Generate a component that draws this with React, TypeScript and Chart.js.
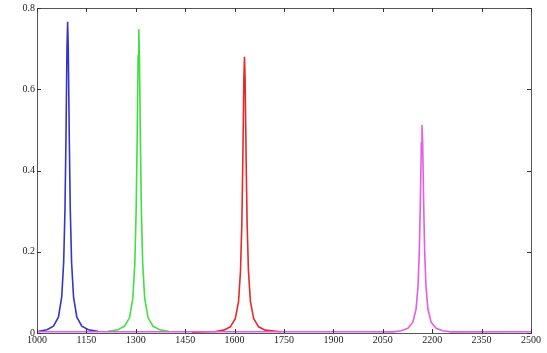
import React, { useEffect, useRef } from "react";
import { Chart, registerables } from "chart.js";

Chart.register(...registerables);

const xTicks = [1000, 1150, 1300, 1450, 1600, 1750, 1900, 2050, 2200, 2350, 2500];
const yTicks = [0, 0.2, 0.4, 0.6, 0.8];

const blueX = [1005, 1030, 1050, 1065, 1075, 1081, 1085, 1088, 1091, 1093, 1095, 1098, 1101, 1105, 1111, 1121, 1136, 1156, 1185];
const blueY = [0.004, 0.008, 0.017, 0.039, 0.088, 0.174, 0.305, 0.481, 0.7, 0.766, 0.7, 0.481, 0.305, 0.174, 0.088, 0.039, 0.017, 0.008, 0.004];

const greenX = [1215, 1246, 1266, 1281, 1291, 1297, 1301, 1304, 1307, 1309, 1311, 1314, 1317, 1321, 1327, 1337, 1352, 1372, 1400];
const greenY = [0.004, 0.0079, 0.0167, 0.038, 0.086, 0.17, 0.298, 0.47, 0.683, 0.748, 0.683, 0.47, 0.298, 0.17, 0.086, 0.038, 0.0167, 0.0079, 0.004];

const redX = [1470, 1542, 1567, 1587, 1602, 1612, 1618, 1622, 1625, 1628, 1630, 1632, 1635, 1638, 1642, 1648, 1658, 1673, 1693, 1740];
const redY = [0.002, 0.0037, 0.0071, 0.0152, 0.035, 0.078, 0.154, 0.271, 0.427, 0.621, 0.68, 0.621, 0.427, 0.271, 0.154, 0.078, 0.035, 0.0152, 0.0071, 0.003];

const magentaX = [1000, 1500, 2000, 2081, 2106, 2126, 2141, 2151, 2157, 2161, 2164, 2167, 2169, 2171, 2174, 2177, 2181, 2187, 2197, 2212, 2232, 2257, 2500];
const magentaY = [0.003, 0.003, 0.003, 0.0028, 0.0054, 0.0114, 0.026, 0.059, 0.116, 0.204, 0.322, 0.468, 0.512, 0.468, 0.322, 0.204, 0.116, 0.059, 0.026, 0.0114, 0.0054, 0.0028, 0.003];

const colors = { blue: "#3535cc", green: "#3fe03f", red: "#e62a2a", magenta: "#e25ee2" };

function pts(xs: number[], ys: number[]) {
  return xs.map((x, i) => ({ x, y: ys[i] }));
}

const framePlugin = {
  id: "frame",
  afterDraw(chart: any) {
    const { ctx, chartArea } = chart;
    const xs = chart.scales.x;
    const ys = chart.scales.y;
    ctx.save();
    ctx.strokeStyle = "#555";
    ctx.lineWidth = 1;
    ctx.strokeRect(chartArea.left + 0.5, chartArea.top + 0.5, chartArea.right - chartArea.left, chartArea.bottom - chartArea.top);
    const L = 4;
    ctx.strokeStyle = "#333";
    ctx.beginPath();
    xTicks.forEach((v) => {
      const px = Math.round(xs.getPixelForValue(v)) + 0.5;
      ctx.moveTo(px, chartArea.bottom);
      ctx.lineTo(px, chartArea.bottom - L);
      ctx.moveTo(px, chartArea.top);
      ctx.lineTo(px, chartArea.top + L);
    });
    yTicks.forEach((v) => {
      const py = Math.round(ys.getPixelForValue(v)) + 0.5;
      ctx.moveTo(chartArea.left, py);
      ctx.lineTo(chartArea.left + L, py);
      ctx.moveTo(chartArea.right, py);
      ctx.lineTo(chartArea.right - L, py);
    });
    ctx.stroke();
    ctx.restore();
  },
};

export default function App() {
  const ref = useRef<HTMLCanvasElement | null>(null);
  useEffect(() => {
    document.body.style.margin = "0";
    const mk = (label: string, xs: number[], ys: number[], c: string) => ({
      label,
      data: pts(xs, ys),
      borderColor: c,
      backgroundColor: c,
      borderWidth: 1.6,
      pointRadius: 0,
      tension: 0,
      fill: false,
    });
    const chart = new Chart(ref.current as HTMLCanvasElement, {
      type: "line",
      data: {
        datasets: [
          mk("magenta", magentaX, magentaY, colors.magenta),
          mk("blue", blueX, blueY, colors.blue),
          mk("green", greenX, greenY, colors.green),
          mk("red", redX, redY, colors.red),
        ],
      },
      options: {
        animation: false,
        responsive: false,
        layout: { padding: { top: 8, right: 16, left: 0, bottom: 0 } },
        plugins: { legend: { display: false }, tooltip: { enabled: false } },
        scales: {
          x: {
            type: "linear",
            min: 1000,
            max: 2500,
            afterBuildTicks: (s: any) => {
              s.ticks = xTicks.map((v) => ({ value: v }));
            },
            afterFit: (s: any) => {
              s.height = 20;
            },
            grid: { display: false, drawTicks: false },
            border: { display: false },
            ticks: {
              autoSkip: false,
              maxRotation: 0,
              padding: 1,
              color: "#222",
              font: { family: "Liberation Serif", size: 10 },
              callback: (v: any) => String(v),
            },
          },
          y: {
            type: "linear",
            min: 0,
            max: 0.8,
            afterBuildTicks: (s: any) => {
              s.ticks = yTicks.map((v) => ({ value: v }));
            },
            afterFit: (s: any) => {
              s.width = 37;
            },
            grid: { display: false, drawTicks: false },
            border: { display: false },
            ticks: {
              padding: 2,
              color: "#222",
              font: { family: "Liberation Serif", size: 10 },
              callback: (v: any) => String(Math.round(v * 10) / 10),
            },
          },
        },
      },
      plugins: [framePlugin],
    } as any);
    return () => chart.destroy();
  }, []);
  return <canvas ref={ref} width={547} height={353} style={{ display: "block" }} />;
}
